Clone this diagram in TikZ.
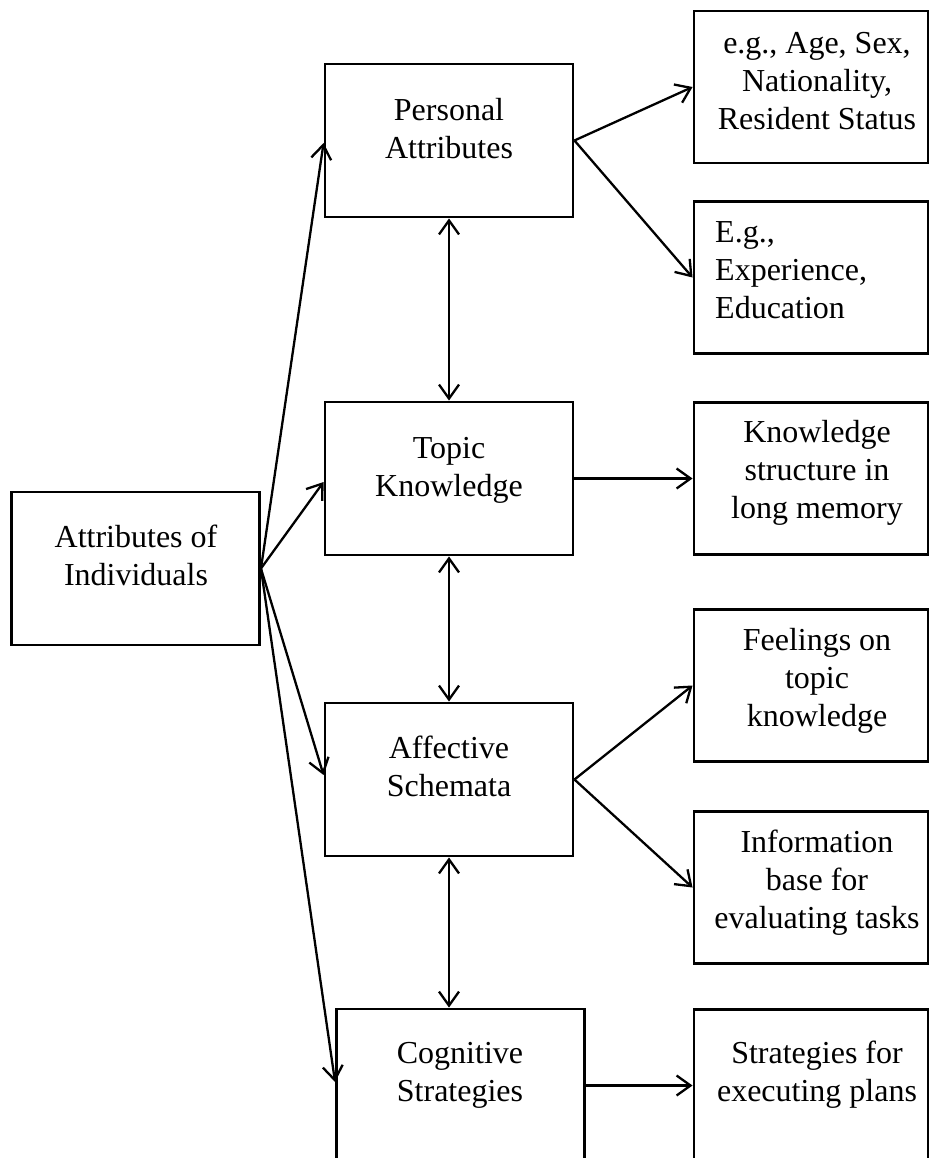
\documentclass[tikz,border=0pt]{standalone}
\usepackage{fontspec}
\setmainfont{Liberation Serif}
\usetikzlibrary{arrows.meta}
\newcommand{\ls}{\rule[-10pt]{0pt}{38pt}}
\begin{document}
\begin{tikzpicture}[x=1pt,y=-1pt,
  boxbase/.style={draw,line width=2.9pt,inner sep=0pt},
  midbox/.style={boxbase,minimum width=248pt,minimum height=153pt},
  sidebox/.style={boxbase,minimum width=234pt,minimum height=152pt},
  txt/.style={font=\fontsize{32}{38}\selectfont,inner sep=0pt,anchor=north,align=center},
  tipb/.tip={Straight Barb[length=14pt,width=20pt]},
  arr/.style={line width=2.3pt,-tipb},
  dbl/.style={line width=2.3pt,tipb-tipb}]
\useasboundingbox (0,0) rectangle (930,1158);
\clip (0,0) rectangle (930,1158);
% boxes
\node[midbox] (AI) at (135.5,568.5) {};
\node[midbox] (PA) at (449,140.5) {};
\node[midbox] (TK) at (449,478.5) {};
\node[midbox] (AS) at (449,779.5) {};
\node[midbox] (CS) at (460.5,1085.5) {};
\node[sidebox] (EX1) at (811,87) {};
\node[sidebox] (EX2) at (811,277.5) {};
\node[sidebox] (KS) at (811,478.5) {};
\node[sidebox] (FE) at (811,685.5) {};
\node[sidebox] (IB) at (811,887.5) {};
\node[sidebox] (SE) at (811,1085.5) {};
% texts
\node[txt] (tAI) at (136,519) {\ls Attributes of\\\ls Individuals};
\node[txt] (tPA) at (449,92) {\ls Personal\\\ls Attributes};
\node[txt] (tTK) at (449,430) {\ls Topic\\\ls Knowledge};
\node[txt] (tAS) at (449,730) {\ls Affective\\\ls Schemata};
\node[txt] (tCS) at (460,1035) {\ls Cognitive\\\ls Strategies};
\node[txt] (tEX1) at (817,25) {\ls e.g., Age, Sex,\\\ls Nationality,\\\ls Resident Status};
\node[txt,anchor=north west,align=left] (tEX2) at (715,214) {\ls E.g.,\\\ls Experience,\\\ls Education};
\node[txt] (tKS) at (817,414) {\ls Knowledge\\\ls structure in\\\ls long memory};
\node[txt] (tFE) at (817,622) {\ls Feelings on\\\ls topic\\\ls knowledge};
\node[txt] (tIB) at (817,824) {\ls Information\\\ls base for\\\ls evaluating tasks};
\node[txt] (tSE) at (817,1035) {\ls Strategies for\\\ls executing plans};
% connectors from attributes of individuals
\draw[arr] (AI.east) -- ([yshift=-2.5pt]PA.west);
\draw[arr] (AI.east) -- ([yshift=-3.5pt]TK.west);
\draw[arr] (AI.east) -- ([yshift=4.5pt]AS.west);
\draw[arr] (AI.east) -- ([yshift=3.5pt]CS.west);
% right side
\draw[arr] (PA.east) -- (EX1.west);
\draw[arr] (PA.east) -- (EX2.west);
\draw[arr] (TK.east) -- (KS.west);
\draw[arr] (AS.east) -- (FE.west);
\draw[arr] (AS.east) -- (IB.west);
\draw[arr] (CS.east) -- (SE.west);
% vertical double arrows
\draw[dbl] (PA.south) -- (TK.north);
\draw[dbl] (TK.south) -- (AS.north);
\draw[dbl] (AS.south) -- (AS.south |- CS.north);
\end{tikzpicture}
\end{document}
